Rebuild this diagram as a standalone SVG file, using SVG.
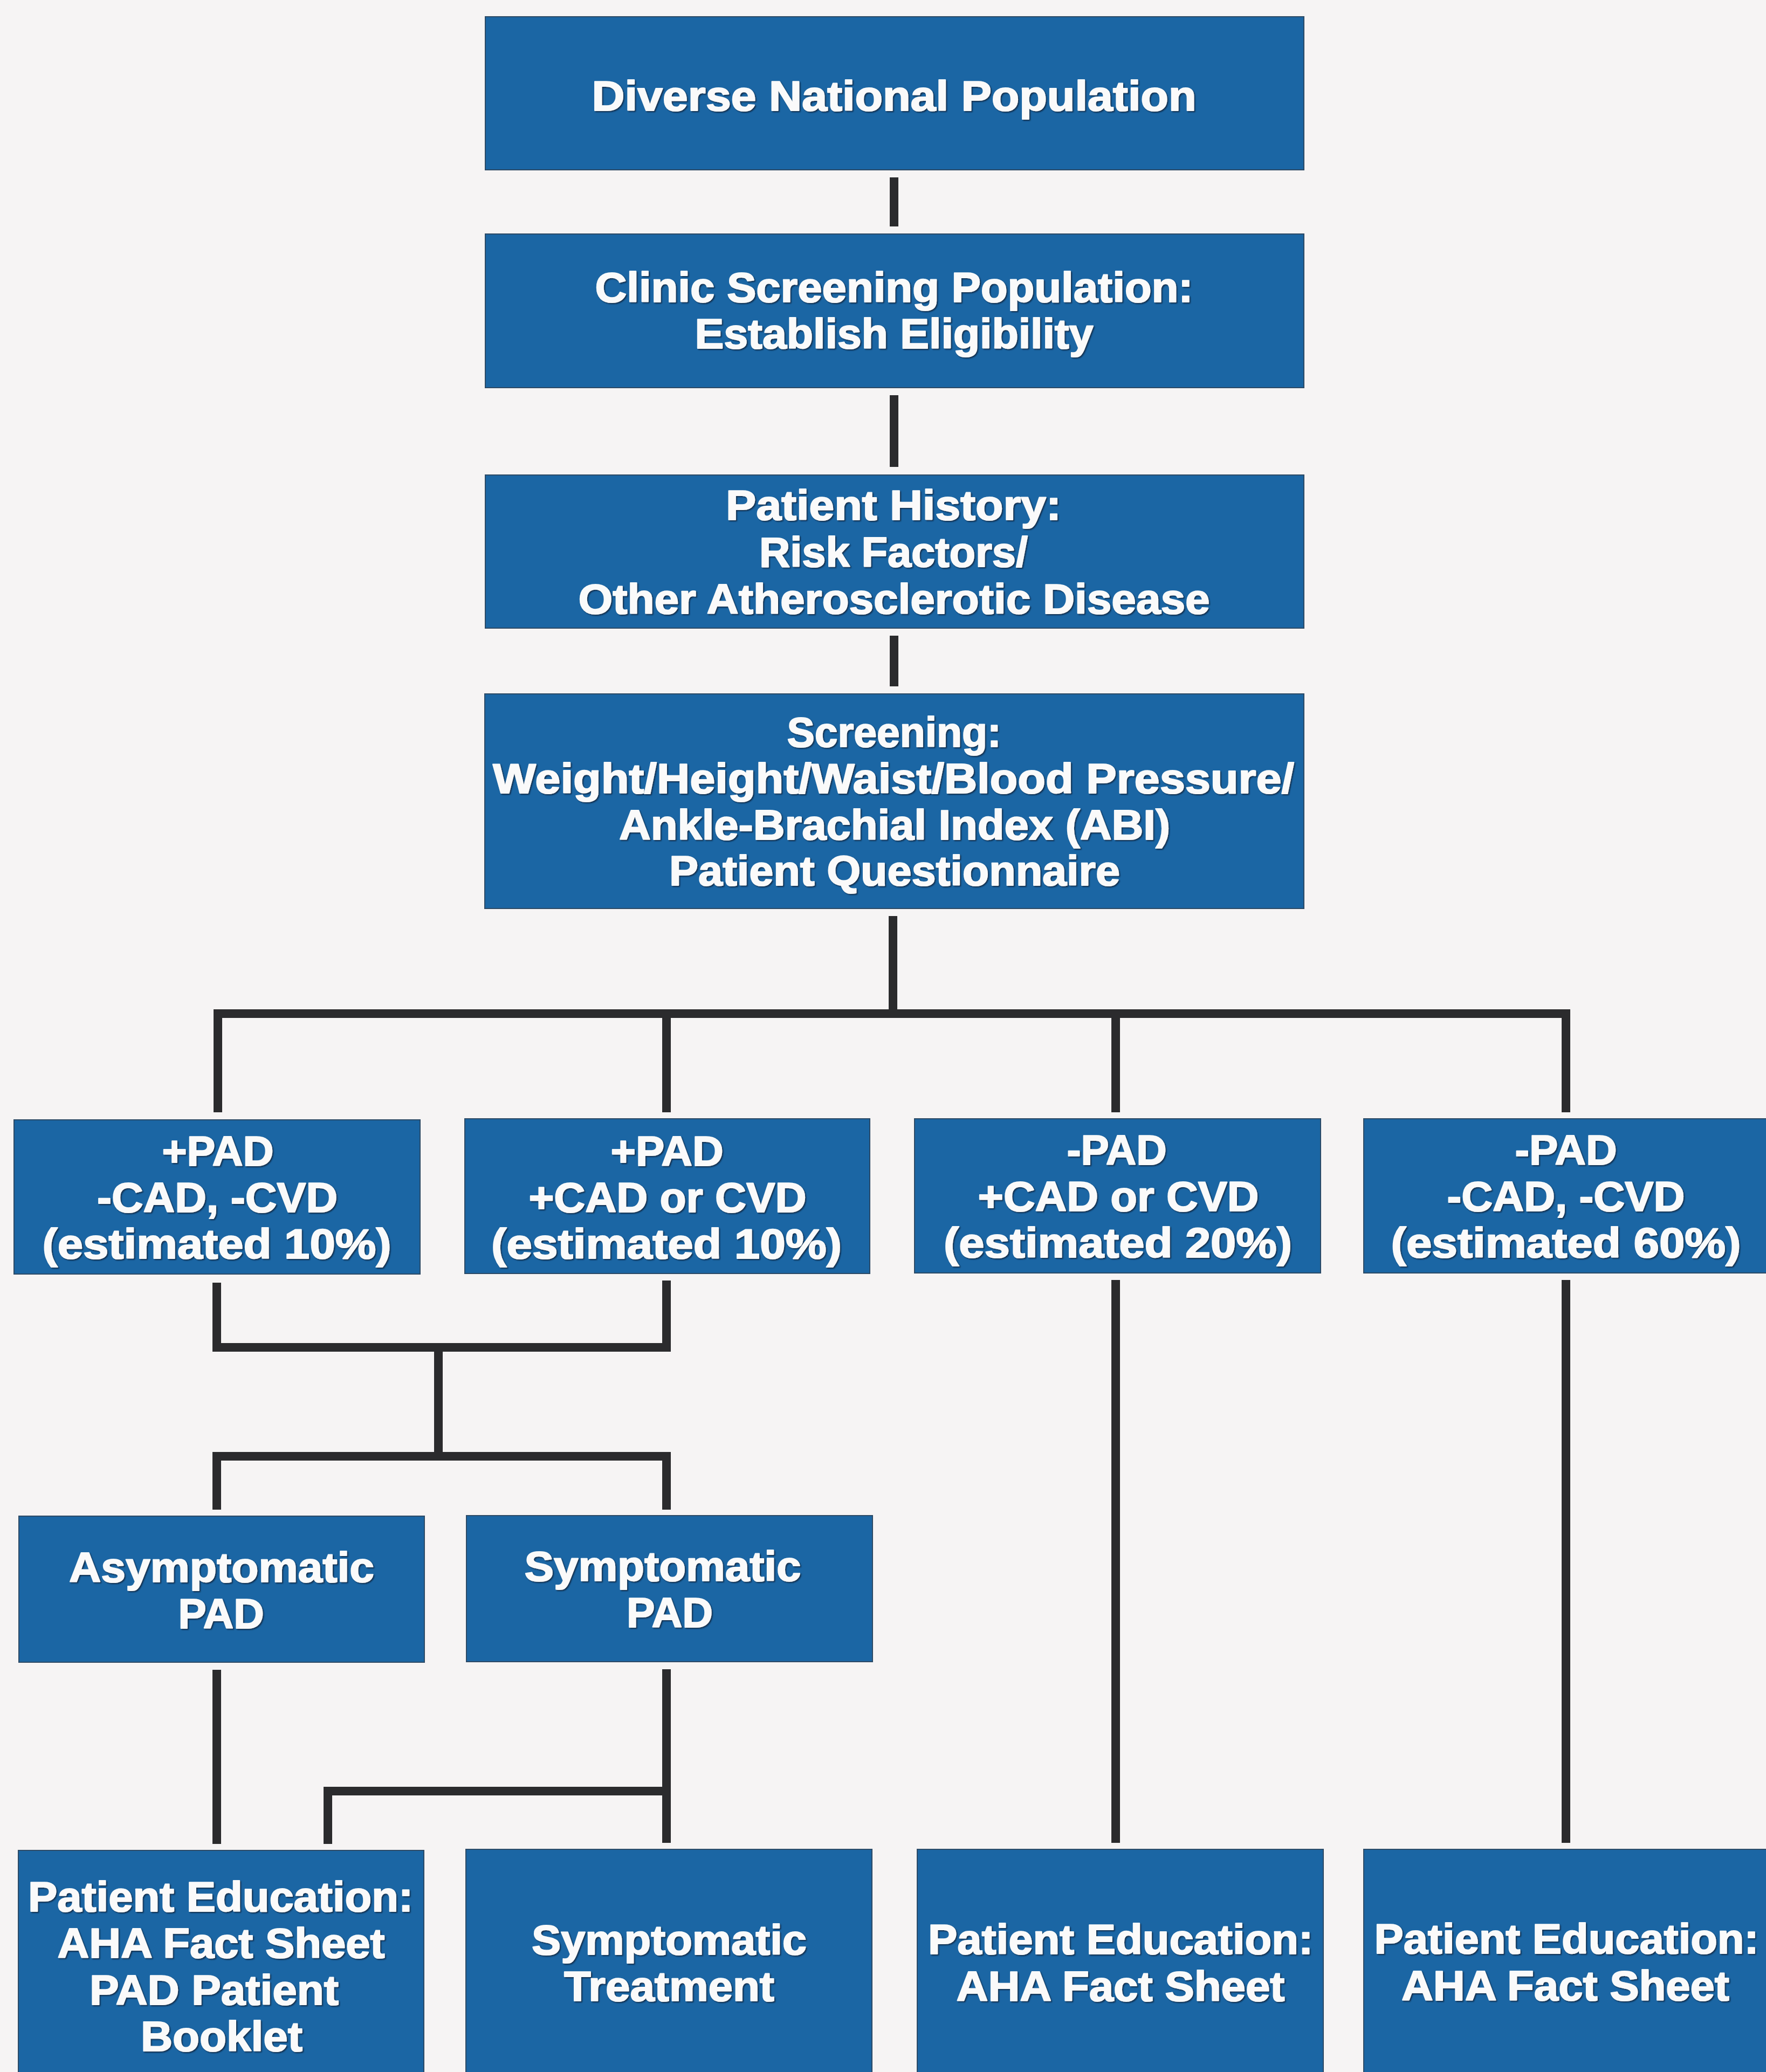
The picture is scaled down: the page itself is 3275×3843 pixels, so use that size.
<svg xmlns="http://www.w3.org/2000/svg" width="3275" height="3843" viewBox="0 0 3275 3843">
<defs>
<style>
.box{fill:#1b66a4;stroke:#2c4a66;stroke-width:2}
.t{font-family:"Liberation Sans",Arial,sans-serif;font-weight:bold;font-size:78px;fill:#fafafa;stroke:#fafafa;stroke-width:2;stroke-linejoin:round;text-anchor:middle;filter:url(#sh)}
.c{fill:none;stroke:#2b2b2d;stroke-width:16;stroke-linecap:butt;stroke-linejoin:miter}
</style>
<filter id="sh" x="-5%" y="-20%" width="110%" height="140%">
<feDropShadow dx="2" dy="2" stdDeviation="1.2" flood-color="#0b2238" flood-opacity="0.8"/>
</filter>
</defs>
<rect x="0" y="0" width="3275" height="3843" fill="#f6f4f4"/>
<g id="connectors">
<line class="c" x1="1658" y1="329" x2="1658" y2="420"/>
<line class="c" x1="1658" y1="733" x2="1658" y2="866"/>
<line class="c" x1="1658" y1="1179" x2="1658" y2="1273"/>
<line class="c" x1="1656" y1="1699" x2="1656" y2="1880"/>
<path class="c" d="M404,2063 V1880 H2904 V2063"/>
<line class="c" x1="1236" y1="1880" x2="1236" y2="2063"/>
<line class="c" x1="2069" y1="1880" x2="2069" y2="2063"/>
<path class="c" d="M402,2379 V2499 H1236 V2375"/>
<line class="c" x1="813" y1="2499" x2="813" y2="2701"/>
<path class="c" d="M402,2800 V2701 H1236 V2800"/>
<line class="c" x1="402" y1="3097" x2="402" y2="3420"/>
<line class="c" x1="1236" y1="3096" x2="1236" y2="3418"/>
<path class="c" d="M1236,3322 H608 V3420"/>
<line class="c" x1="2069" y1="2374" x2="2069" y2="3418"/>
<line class="c" x1="2904" y1="2374" x2="2904" y2="3418"/>
</g>
<g id="n1">
<rect class="box" x="900" y="31" width="1518" height="284"/>
<text class="t" x="1658" y="205" textLength="1121" lengthAdjust="spacingAndGlyphs">Diverse National Population</text>
</g>
<g id="n2">
<rect class="box" x="900" y="434" width="1518" height="285"/>
<text class="t" x="1658" y="560" textLength="1109" lengthAdjust="spacingAndGlyphs">Clinic Screening Population:</text>
<text class="t" x="1658" y="646" textLength="739" lengthAdjust="spacingAndGlyphs">Establish Eligibility</text>
</g>
<g id="n3">
<rect class="box" x="900" y="881" width="1518" height="284"/>
<text class="t" x="1657" y="964" textLength="622" lengthAdjust="spacingAndGlyphs">Patient History:</text>
<text class="t" x="1657" y="1051" textLength="498" lengthAdjust="spacingAndGlyphs">Risk Factors/</text>
<text class="t" x="1658" y="1138" textLength="1171" lengthAdjust="spacingAndGlyphs">Other Atherosclerotic Disease</text>
</g>
<g id="n4">
<rect class="box" x="899" y="1287" width="1519" height="398"/>
<text class="t" x="1658" y="1385" textLength="397" lengthAdjust="spacingAndGlyphs">Screening:</text>
<text class="t" x="1657" y="1471" textLength="1486" lengthAdjust="spacingAndGlyphs">Weight/Height/Waist/Blood Pressure/</text>
<text class="t" x="1659" y="1557" textLength="1022" lengthAdjust="spacingAndGlyphs">Ankle-Brachial Index (ABI)</text>
<text class="t" x="1659" y="1642" textLength="836" lengthAdjust="spacingAndGlyphs">Patient Questionnaire</text>
</g>
<g id="nA">
<rect class="box" x="26" y="2077" width="753" height="286"/>
<text class="t" x="404" y="2162" textLength="207" lengthAdjust="spacingAndGlyphs">+PAD</text>
<text class="t" x="403" y="2248" textLength="446" lengthAdjust="spacingAndGlyphs">-CAD, -CVD</text>
<text class="t" x="402" y="2334" textLength="647" lengthAdjust="spacingAndGlyphs">(estimated 10%)</text>
</g>
<g id="nB">
<rect class="box" x="862" y="2075" width="751" height="287"/>
<text class="t" x="1237" y="2162" textLength="209" lengthAdjust="spacingAndGlyphs">+PAD</text>
<text class="t" x="1238" y="2248" textLength="515" lengthAdjust="spacingAndGlyphs">+CAD or CVD</text>
<text class="t" x="1236" y="2334" textLength="650" lengthAdjust="spacingAndGlyphs">(estimated 10%)</text>
</g>
<g id="nC">
<rect class="box" x="1696" y="2075" width="753" height="286"/>
<text class="t" x="2071" y="2160" textLength="185" lengthAdjust="spacingAndGlyphs">-PAD</text>
<text class="t" x="2074" y="2246" textLength="521" lengthAdjust="spacingAndGlyphs">+CAD or CVD</text>
<text class="t" x="2073" y="2332" textLength="646" lengthAdjust="spacingAndGlyphs">(estimated 20%)</text>
</g>
<g id="nD">
<rect class="box" x="2529" y="2075" width="760" height="286"/>
<text class="t" x="2904" y="2160" textLength="189" lengthAdjust="spacingAndGlyphs">-PAD</text>
<text class="t" x="2904" y="2246" textLength="441" lengthAdjust="spacingAndGlyphs">-CAD, -CVD</text>
<text class="t" x="2904" y="2332" textLength="649" lengthAdjust="spacingAndGlyphs">(estimated 60%)</text>
</g>
<g id="nAsym">
<rect class="box" x="35" y="2812" width="752" height="271"/>
<text class="t" x="411" y="2934" textLength="566" lengthAdjust="spacingAndGlyphs">Asymptomatic</text>
<text class="t" x="410" y="3020" textLength="159" lengthAdjust="spacingAndGlyphs">PAD</text>
</g>
<g id="nSym">
<rect class="box" x="865" y="2811" width="753" height="271"/>
<text class="t" x="1229" y="2932" textLength="513" lengthAdjust="spacingAndGlyphs">Symptomatic</text>
<text class="t" x="1242" y="3018" textLength="160" lengthAdjust="spacingAndGlyphs">PAD</text>
</g>
<g id="nE1">
<rect class="box" x="34" y="3432" width="752" height="420"/>
<text class="t" x="409" y="3545" textLength="714" lengthAdjust="spacingAndGlyphs">Patient Education:</text>
<text class="t" x="410" y="3631" textLength="607" lengthAdjust="spacingAndGlyphs">AHA Fact Sheet</text>
<text class="t" x="397" y="3718" textLength="462" lengthAdjust="spacingAndGlyphs">PAD Patient</text>
<text class="t" x="411" y="3804" textLength="300" lengthAdjust="spacingAndGlyphs">Booklet</text>
</g>
<g id="nE2">
<rect class="box" x="864" y="3430" width="753" height="420"/>
<text class="t" x="1241" y="3625" textLength="510" lengthAdjust="spacingAndGlyphs">Symptomatic</text>
<text class="t" x="1241" y="3711" textLength="390" lengthAdjust="spacingAndGlyphs">Treatment</text>
</g>
<g id="nE3">
<rect class="box" x="1701" y="3430" width="753" height="420"/>
<text class="t" x="2078" y="3624" textLength="714" lengthAdjust="spacingAndGlyphs">Patient Education:</text>
<text class="t" x="2078" y="3711" textLength="609" lengthAdjust="spacingAndGlyphs">AHA Fact Sheet</text>
</g>
<g id="nE4">
<rect class="box" x="2529" y="3430" width="760" height="420"/>
<text class="t" x="2905" y="3623" textLength="713" lengthAdjust="spacingAndGlyphs">Patient Education:</text>
<text class="t" x="2903" y="3710" textLength="608" lengthAdjust="spacingAndGlyphs">AHA Fact Sheet</text>
</g>
</svg>
